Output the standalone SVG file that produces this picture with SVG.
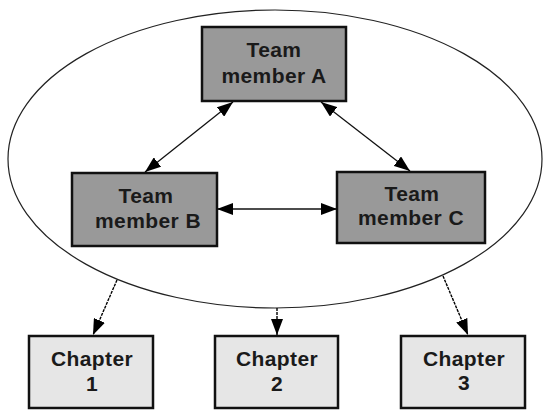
<svg xmlns="http://www.w3.org/2000/svg" width="543" height="410" viewBox="0 0 543 410">
<style>
.team{fill:#999999;stroke:#111;stroke-width:2.5}
.chap{fill:#e6e6e6;stroke:#111;stroke-width:2.5}
.lbl{font-family:"Liberation Sans",Arial,sans-serif;font-weight:bold;font-size:21px;fill:#1a1a1a;text-anchor:middle;letter-spacing:0.4px}
.conn{stroke:#111;stroke-width:1.3;fill:none}
.dot{stroke:#000;stroke-width:1.4;fill:none;stroke-dasharray:3 1}
</style>
<defs>
<marker id="ah" viewBox="0 0 16 12" refX="16" refY="6" markerWidth="16" markerHeight="12" markerUnits="userSpaceOnUse" orient="auto-start-reverse">
<path d="M0,0 L16,6 L0,12 z" fill="#000"/>
</marker>
</defs>
<rect width="543" height="410" fill="#fff"/>
<ellipse id="group" cx="275" cy="159" rx="267" ry="149" fill="none" stroke="#222" stroke-width="1.2"/>
<g id="nodeA"><rect class="team" x="202" y="27" width="144" height="74"/><text class="lbl" x="274" y="57">Team</text><text class="lbl" x="274" y="83">member A</text></g>
<g id="nodeB"><rect class="team" x="72" y="173" width="145" height="73"/><text class="lbl" x="146" y="203">Team</text><text class="lbl" x="148" y="228">member B</text></g>
<g id="nodeC"><rect class="team" x="337" y="172" width="148" height="71"/><text class="lbl" x="412" y="201">Team</text><text class="lbl" x="411" y="225">member C</text></g>
<g id="ch1"><rect class="chap" x="29" y="336" width="124" height="72"/><text class="lbl" x="92" y="366">Chapter</text><text class="lbl" x="92" y="391">1</text></g>
<g id="ch2"><rect class="chap" x="215" y="336" width="123" height="72"/><text class="lbl" x="277" y="366">Chapter</text><text class="lbl" x="277" y="391">2</text></g>
<g id="ch3"><rect class="chap" x="401" y="336" width="124" height="72"/><text class="lbl" x="464" y="366">Chapter</text><text class="lbl" x="464" y="390">3</text></g>
<g id="connectors">
<line class="conn" x1="145" y1="172" x2="233" y2="102" marker-start="url(#ah)" marker-end="url(#ah)"/>
<line class="conn" x1="321" y1="102" x2="410" y2="171" marker-start="url(#ah)" marker-end="url(#ah)"/>
<line class="conn" x1="217" y1="209" x2="337" y2="209" marker-start="url(#ah)" marker-end="url(#ah)"/>
<line class="dot" x1="117" y1="280" x2="93" y2="335" marker-end="url(#ah)"/>
<line class="dot" x1="277" y1="308" x2="277" y2="335" marker-end="url(#ah)"/>
<line class="dot" x1="443" y1="276" x2="468" y2="335" marker-end="url(#ah)"/>
</g>
</svg>
